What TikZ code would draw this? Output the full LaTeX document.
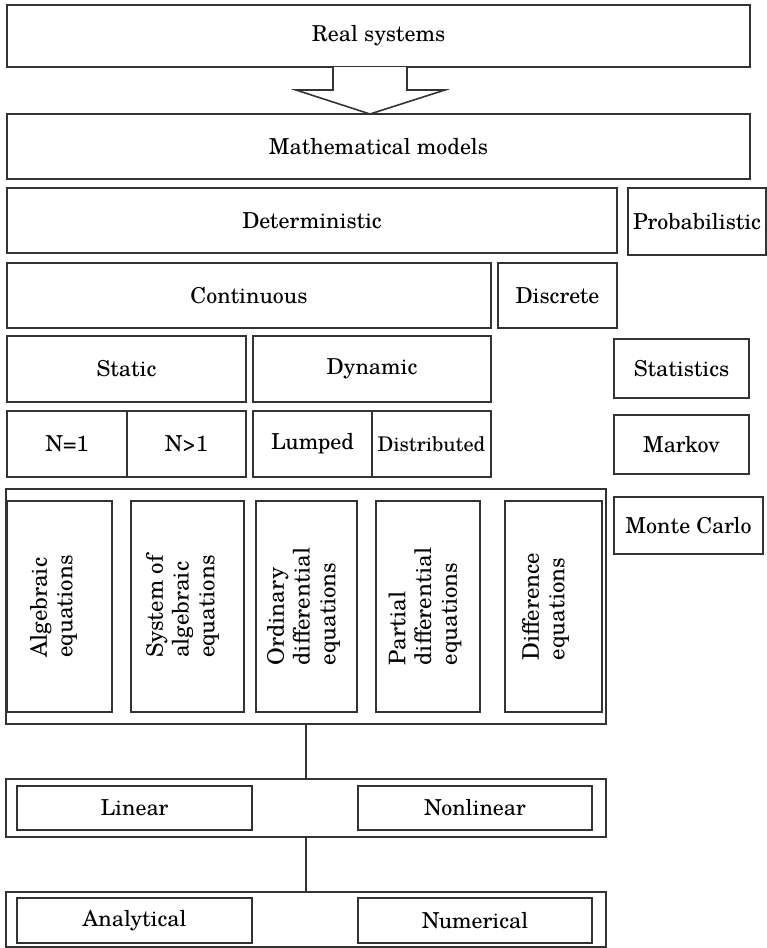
\documentclass[tikz,border=0pt]{standalone}
\usepackage{fontspec}
\setmainfont{TeX Gyre Schola}

\newcommand{\boxfont}{\fontsize{12.5}{15}\selectfont}

% box from corner (#2,#3) to corner (#4,#5), in pixels
\newcommand{\chartbox}[6]{%
    \node[blk,minimum width={(#4-#2)*0.02cm},minimum height={(#5-#3)*0.02cm}]
        (#1) at ({(#2+#4)/2},{(#3+#5)/2}) {#6};}

\tikzset{
    blk/.style={draw=black!80,line width=0.9pt,fill=white,inner sep=0pt,font=\boxfont},
    vtxt/.style={rotate=90,align=left,inner sep=0pt,font=\fontsize{13}{14.6}\selectfont},
    link/.style={draw=black!80,line width=0.9pt}
}

\begin{document}
\begin{tikzpicture}[x=0.02cm,y=-0.02cm]
    \useasboundingbox (0,0) rectangle (767,948);

    % top of the chart
    \chartbox{real}{7}{5}{750}{67}{Real systems}
    \chartbox{math}{7}{114}{750}{179}{Mathematical models}
    \draw[link,fill=white] (333,67) -- (333,90) -- (296,90) -- (370,114) --
                           (445,90) -- (407,90) -- (407,67);

    % deterministic branch
    \chartbox{det}{7}{188}{617}{253}{Deterministic}
    \chartbox{cont}{7}{263}{491}{328}{Continuous}
    \chartbox{disc}{498}{263}{617}{328}{Discrete}
    \chartbox{stat}{7}{336}{246}{402}{Static}
    \chartbox{dyn}{253}{336}{491}{402}{Dynamic}
    \chartbox{none}{7}{411}{127}{477}{N=1}
    \chartbox{nmany}{127}{411}{246}{477}{N>1}
    \chartbox{lump}{253}{411}{372}{477}{Lumped}
    \chartbox{dist}{372}{411}{491}{477}{\fontsize{11.5}{14}\selectfont Distributed}

    % probabilistic branch
    \chartbox{prob}{628}{188}{766}{255}{Probabilistic}
    \chartbox{stats}{614}{339}{749}{398}{Statistics}
    \chartbox{markov}{614}{415}{749}{474}{Markov}
    \chartbox{monte}{614}{497}{763}{554}{Monte Carlo}

    % equation types
    \chartbox{eqs}{6}{489}{606}{724}{}
    \chartbox{alg}{7}{501}{112}{712}{}
    \chartbox{sys}{131}{501}{244}{712}{}
    \chartbox{ode}{256}{501}{357}{712}{}
    \chartbox{pde}{376}{501}{480}{712}{}
    \chartbox{diffe}{505}{501}{602}{712}{}
    \node[vtxt] (talg)  at ([xshift=-0.12cm]alg)   {Algebraic\\equations};
    \node[vtxt] (tsys)  at ([xshift=-0.1cm]sys)    {System of\\algebraic\\equations};
    \node[vtxt] (tode)  at ([xshift=-0.06cm]ode)   {Ordinary\\differential\\equations};
    \node[vtxt] (tpde)  at ([xshift=-0.06cm]pde)   {Partial\\differential\\equations};
    \node[vtxt] (tdiff) at ([xshift=-0.16cm]diffe) {Difference\\equations};

    % linearity
    \chartbox{lin}{6}{779}{606}{837}{}
    \chartbox{linear}{17}{786}{252}{830}{Linear}
    \chartbox{nonlin}{358}{786}{592}{830}{Nonlinear}

    % solution methods
    \chartbox{sol}{6}{892}{606}{947}{}
    \chartbox{ana}{17}{898}{252}{943}{Analytical}
    \chartbox{num}{358}{898}{592}{943}{Numerical}

    \draw[link] (eqs.south) -- (lin.north);
    \draw[link] (lin.south) -- (sol.north);
\end{tikzpicture}
\end{document}
